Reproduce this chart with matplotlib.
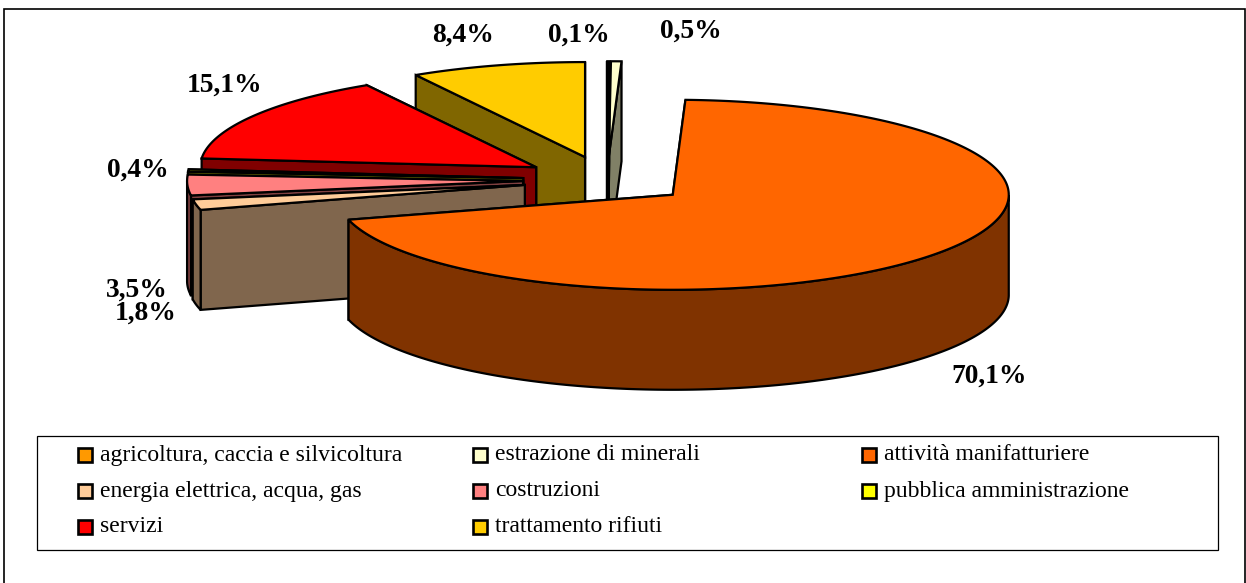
import numpy as np
import matplotlib
matplotlib.use('Agg')
import matplotlib.pyplot as plt
from matplotlib.patches import Polygon, Rectangle

plt.rcParams['font.family'] = ['Liberation Serif', 'DejaVu Serif']

# data, clockwise from the top of the pie
sectors = ['agricoltura, caccia e silvicoltura', 'estrazione di minerali', 'attività manifatturiere',
           'energia elettrica, acqua, gas', 'costruzioni', 'pubblica amministrazione',
           'servizi', 'trattamento rifiuti']
values = [0.1, 0.5, 70.1, 1.8, 3.5, 0.4, 15.1, 8.4]
value_labels = ['0,1%', '0,5%', '70,1%', '1,8%', '3,5%', '0,4%', '15,1%', '8,4%']
top_colors = ['#FF9900', '#FFFFCC', '#FF6600', '#FFCC99', '#FF8080', '#FFFF00', '#FF0000', '#FFCC00']
side_colors = ['#804D00', '#808066', '#803300', '#80664D', '#804040', '#808000', '#800000', '#806600']

# pie geometry, in pixels
cx, cy = 607, 180
rx, ry = 336, 95
depth = 100
explode = 0.25
start_deg = 0.0
label_pos = [(579, 35), (691, 31), (989, 376), (146, 313), (137, 290), (138, 170), (225, 85), (463, 35)]
draw_order = [7, 1, 0, 6, 5, 4, 3, 2]  # back to front

fig = plt.figure(figsize=(12.46, 5.83), dpi=100)
ax = fig.add_axes([0, 0, 1, 1])
ax.set_xlim(0, 1246)
ax.set_ylim(583, 0)
ax.axis('off')

# outer frame, bottom edge runs off the picture
ax.add_patch(Rectangle((4, 9), 1241, 590, fc='white', ec='black', lw=1.2))


def rim(ox, oy, deg):
    a = np.radians(deg)
    return ox + rx * np.sin(a), oy - ry * np.cos(a)


def draw_wedge(i, a0, a1):
    mid = np.radians((a0 + a1) / 2)
    ox = cx + explode * rx * np.sin(mid)
    oy = cy - explode * ry * np.cos(mid)
    n = max(int(a1 - a0) * 2, 2)
    angles = np.linspace(a0, a1, n + 1)
    xs, ys = rim(ox, oy, angles)
    style = dict(lw=1.6, ec='black', joinstyle='miter', zorder=3 + draw_order.index(i))

    # the two flat faces, the one further back first
    for k in sorted((0, -1), key=lambda j: ys[j]):
        ax.add_patch(Polygon([(ox, oy), (xs[k], ys[k]), (xs[k], ys[k] + depth), (ox, oy + depth)],
                             fc=side_colors[i], **style))
    # outer wall, only the part turned to the viewer
    front = (angles >= 90) & (angles <= 270)
    if front.sum() > 1:
        fx, fy = xs[front], ys[front]
        pts = np.concatenate([np.c_[fx, fy], np.c_[fx[::-1], fy[::-1] + depth]])
        ax.add_patch(Polygon(pts, fc=side_colors[i], **style))
    # top
    ax.add_patch(Polygon(np.vstack([[ox, oy], np.c_[xs, ys]]), fc=top_colors[i], **style))


total = sum(values)
edges = start_deg + np.cumsum([0] + values) / total * 360
for i in draw_order:
    draw_wedge(i, edges[i], edges[i + 1])

for (x, y), lab in zip(label_pos, value_labels):
    ax.text(x, y, lab, fontsize=19.8, fontweight='bold', ha='center', va='center', zorder=20)

# legend box
ax.add_patch(Rectangle((37, 436), 1181, 114, fc='white', ec='black', lw=0.9, zorder=20))
leg_x = [78, 473, 862]
leg_y = [455, 491, 527]
for i, name in enumerate(sectors):
    x, y = leg_x[i % 3], leg_y[i // 3]
    ax.add_patch(Rectangle((x, y - 7), 14, 14, fc=top_colors[i], ec='black', lw=1.9, zorder=21))
    ax.text(leg_x[i % 3] + 22, y, name, fontsize=17, ha='left', va='center', zorder=21)

fig.savefig('out.png', dpi=100)
